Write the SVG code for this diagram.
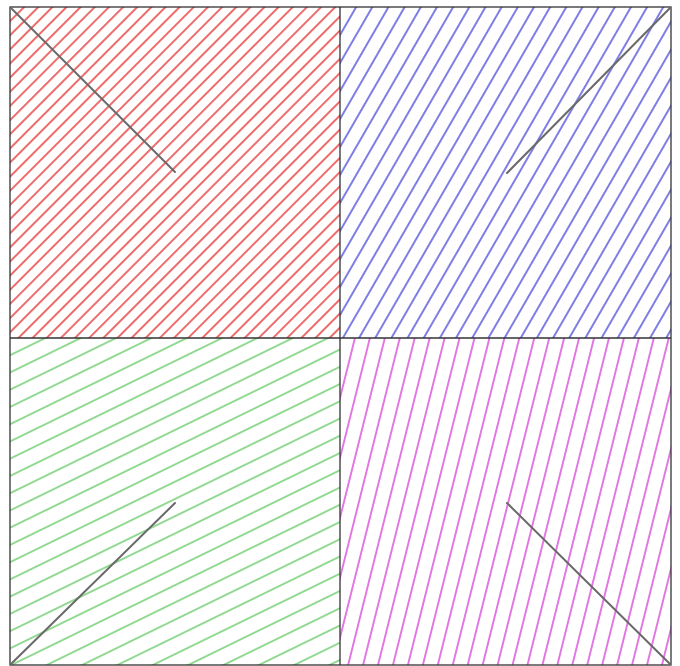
<svg xmlns="http://www.w3.org/2000/svg" width="680" height="666" viewBox="0 0 680 666">
<style>
.hl{stroke-width:1.4;fill:none}
.box{stroke:#333;stroke-width:1.3}
.ray{stroke:#6a6a6a;stroke-width:2;stroke-linecap:round}
</style>
<defs>
<pattern id="pr" patternUnits="userSpaceOnUse" x="10" y="7" width="40" height="10" patternTransform="rotate(-45 10 7)"><line class="hl" x1="0" y1="0" x2="40" y2="0" stroke="#e83a3a"/><line class="hl" x1="0" y1="10" x2="40" y2="10" stroke="#e83a3a"/></pattern>
<pattern id="pb" patternUnits="userSpaceOnUse" x="340" y="7" width="40" height="14" patternTransform="rotate(-60 340 7)"><line class="hl" x1="0" y1="0" x2="40" y2="0" stroke="#5252dc"/><line class="hl" x1="0" y1="14" x2="40" y2="14" stroke="#5252dc"/></pattern>
<pattern id="pg" patternUnits="userSpaceOnUse" x="10" y="338" width="40" height="15.5" patternTransform="rotate(-26 10 338)"><line class="hl" x1="0" y1="0" x2="40" y2="0" stroke="#6ccc6c"/><line class="hl" x1="0" y1="15.5" x2="40" y2="15.5" stroke="#6ccc6c"/></pattern>
<pattern id="pm" patternUnits="userSpaceOnUse" x="340" y="338" width="40" height="14.5" patternTransform="rotate(-76 340 338)"><line class="hl" x1="0" y1="0" x2="40" y2="0" stroke="#d848d8"/><line class="hl" x1="0" y1="14.5" x2="40" y2="14.5" stroke="#d848d8"/></pattern>
</defs>
<rect width="680" height="666" fill="#fff"/>
<g id="tl"><rect x="10" y="7" width="330" height="331" fill="url(#pr)"/></g>
<g id="tr"><rect x="340" y="7" width="331" height="331" fill="url(#pb)"/></g>
<g id="bl"><rect x="10" y="338" width="330" height="327" fill="url(#pg)"/></g>
<g id="br"><rect x="340" y="338" width="331" height="327" fill="url(#pm)"/></g>
<g id="grid" class="box" fill="none">
<rect x="10" y="7" width="661" height="658"/>
<line x1="340" y1="7" x2="340" y2="665"/>
<line x1="10" y1="338" x2="671" y2="338"/>
</g>
<g id="connectors">
<line class="ray" x1="11" y1="8" x2="175" y2="172"/>
<line class="ray" x1="670" y1="8" x2="507" y2="173"/>
<line class="ray" x1="11" y1="664" x2="175" y2="503"/>
<line class="ray" x1="670" y1="664" x2="507" y2="503"/>
</g>
</svg>
